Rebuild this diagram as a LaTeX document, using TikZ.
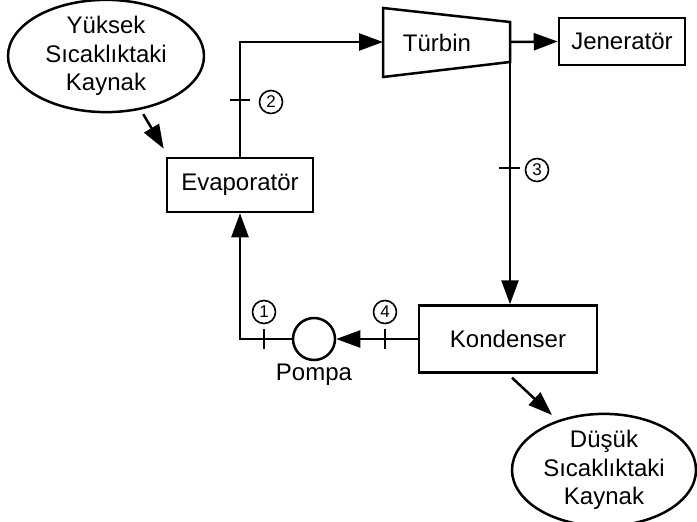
\documentclass[tikz,border=0pt]{standalone}
\usepackage{fontspec}
\setmainfont{Liberation Sans}
\usetikzlibrary{shapes.geometric,arrows.meta}
\begin{document}
\begin{tikzpicture}[x=1pt,y=-1pt, line width=2.5pt,
  lbl/.style={font=\fontsize{24}{28.5}\selectfont},
  box/.style={draw, rectangle, inner sep=0, lbl},
  src/.style={draw, ellipse, inner sep=0, align=center, lbl},
  arr/.style={-{Triangle[length=24pt,width=17pt]}},
  num/.style={draw, circle, line width=1.6pt, minimum size=23pt, inner sep=0, font=\fontsize{17}{17}\selectfont},
  tickmark/.style={line width=2.5pt}]
\useasboundingbox (0,0) rectangle (697,522);

% components
\node[src, minimum width=196pt, minimum height=102pt] (hot) at (106,56) {Yüksek\\Sıcaklıktaki\\Kaynak};
\node[box, minimum width=146pt, minimum height=54pt] (evap) at (240,185) {Evaporatör};
\node[box, minimum width=126pt, minimum height=47pt] (gen) at (622,41.5) {Jeneratör};
\node[box, minimum width=178pt, minimum height=67pt] (kond) at (508,339) {Kondenser};
\node[draw, circle, minimum size=42pt, inner sep=0] (pump) at (314,339) {};
\node[lbl] (pompa) at (314,375) {Pompa};
\node[src, minimum width=184pt, minimum height=104pt] (cold) at (604,470) {Düşük\\Sıcaklıktaki\\Kaynak};

% turbine
\coordinate (t1) at (383,8);
\coordinate (t2) at (510,22);
\coordinate (t3) at (510,62);
\coordinate (t4) at (383,77);
\draw (t1) -- (t2) -- (t3) -- (t4) -- cycle;
\node[lbl] (turb) at (437,43) {Türbin};
\coordinate (tin) at (383,42);
\coordinate (tout) at (510,42);

% connectors
\draw[arr] (evap.north) |- (tin);
\draw[arr] (tout) -- (gen.west);
\draw[arr] (t3) -- (t3 |- kond.north);
\draw[arr] (kond.west) -- (pump.east);
\draw[arr] (pump.west) -| (evap.south);
\draw[arr] ([yshift=-5pt]hot.-55) -- ([xshift=-2pt,yshift=8pt]evap.north west);
\coordinate (c2) at (552,415);
\draw[arr] ([xshift=4pt,yshift=-4pt]kond.south) -- (c2);

% state points
\coordinate (k2) at (240,100);
\draw[tickmark] ([xshift=-10pt]k2) -- ([xshift=10pt]k2);
\node[num] (n2) at (271,102) {2};
\coordinate (k3) at (510,168);
\draw[tickmark] ([xshift=-11pt]k3) -- ([xshift=10pt]k3);
\node[num] (n3) at (537,170) {3};
\coordinate (k1) at (264,339);
\draw[tickmark] ([yshift=-10pt]k1) -- ([yshift=10pt]k1);
\node[num] (n1) at (264,312) {1};
\coordinate (k4) at (385,339);
\draw[tickmark] ([yshift=-10pt]k4) -- ([yshift=10pt]k4);
\node[num] (n4) at (385,312) {4};
\end{tikzpicture}
\end{document}
